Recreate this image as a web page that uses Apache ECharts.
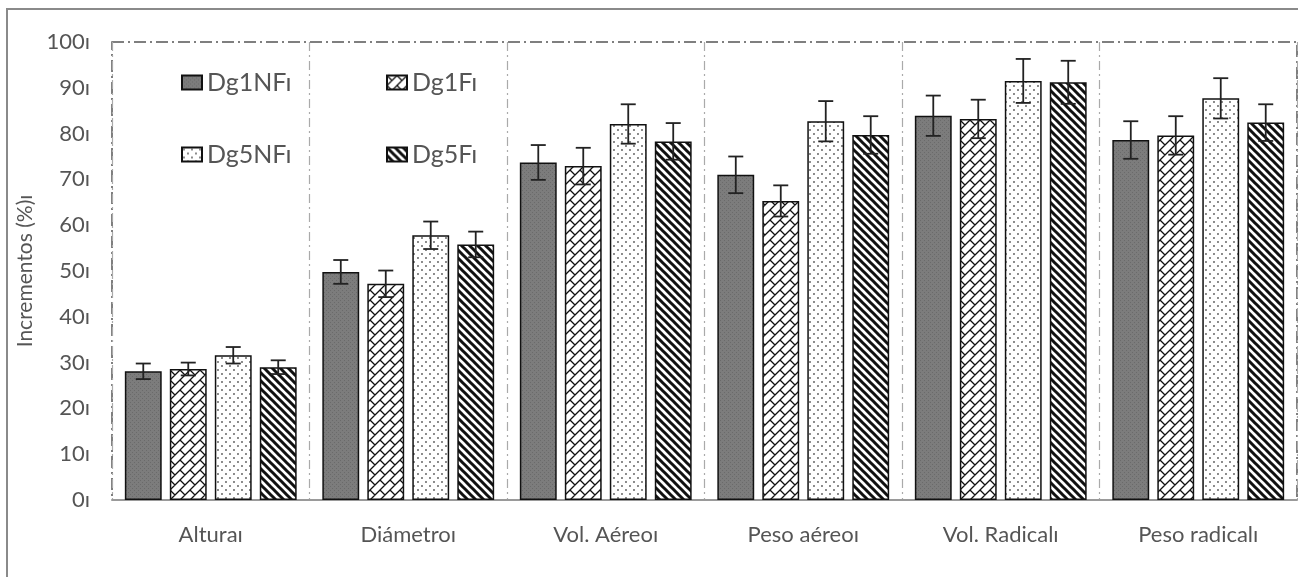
<!DOCTYPE html>
<html lang="es">

<head>
    <meta charset="UTF-8">
    <title>Incrementos</title>
    <style>
        * {
            padding: 0;
            margin: 0;
        }
        body {
            background: #fff;
        }
    </style>
</head>

<body>
    <div id="chart" style="width: 1298px; height: 577px;"></div>
    <script src="https://cdn.jsdelivr.net/npm/echarts@6/dist/echarts.min.js"></script>
    <script>
        const categories = ['Alturaı', 'Diámetroı', 'Vol. Aéreoı', 'Peso aéreoı', 'Vol. Radicalı', 'Peso radicalı']
        const seriesNames = ['Dg1NFı', 'Dg1Fı', 'Dg5NFı', 'Dg5Fı']

        const dg1nf = [28.1, 49.8, 73.7, 71.0, 83.9, 78.6]
        const dg1f = [28.6, 47.2, 72.9, 65.3, 83.2, 79.6]
        const dg5nf = [31.6, 57.8, 82.1, 82.7, 91.5, 87.7]
        const dg5f = [29.0, 55.8, 78.3, 79.7, 91.2, 82.4]

        // desvios (barras de error)
        const err1nf = [1.7, 2.6, 3.8, 4.0, 4.4, 4.1]
        const err1f = [1.4, 2.9, 4.0, 3.4, 4.2, 4.2]
        const err5nf = [1.8, 3.0, 4.3, 4.4, 4.8, 4.4]
        const err5f = [1.5, 2.8, 4.0, 4.1, 4.7, 4.0]

        const yTicks = [0, 10, 20, 30, 40, 50, 60, 70, 80, 90, 100]

        const values = [dg1nf, dg1f, dg5nf, dg5f]
        const errors = [err1nf, err1f, err5nf, err5f]

        const CAT_GAP = 0.13
        const BAR_GAP = 0.22

        // ---- patrones de relleno ----
        function makeTile(size, draw) {
            const c = document.createElement('canvas')
            c.width = size
            c.height = size
            const ctx = c.getContext('2d')
            ctx.fillStyle = '#fff'
            ctx.fillRect(0, 0, size, size)
            draw(ctx, size)
            return { image: c, repeat: 'repeat' }
        }

        const grayFill = makeTile(4, function (ctx, t) {
            ctx.fillStyle = '#7c7c7c'
            ctx.fillRect(0, 0, t, t)
            ctx.fillStyle = '#6a6a6a'
            ctx.fillRect(0, 0, 1, 1)
            ctx.fillRect(2, 2, 1, 1)
        })

        // ladrillos girados 45 grados
        const brickFill = makeTile(10, function (ctx, t) {
            const a = t / Math.SQRT2
            ctx.beginPath()
            ctx.rect(0, 0, t, t)
            ctx.clip()
            ctx.rotate(-Math.PI / 4)
            ctx.strokeStyle = '#111'
            ctx.lineWidth = 1.3
            ctx.beginPath()
            for (let k = -12; k <= 12; k++) {
                ctx.moveTo(-200, k * a)
                ctx.lineTo(200, k * a)
                for (let m = -12; m <= 12; m++) {
                    const x = 2 * a * m + (Math.abs(k) % 2) * a
                    ctx.moveTo(x, k * a)
                    ctx.lineTo(x, (k + 1) * a)
                }
            }
            ctx.stroke()
        })

        const dotFill = makeTile(8, function (ctx, t) {
            ctx.fillStyle = '#555'
            ctx.beginPath()
            ctx.arc(2, 2, 0.9, 0, Math.PI * 2)
            ctx.arc(6, 6, 0.9, 0, Math.PI * 2)
            ctx.fill()
        })

        const stripeFill = makeTile(8, function (ctx, t) {
            ctx.strokeStyle = '#111'
            ctx.lineWidth = 3
            ctx.beginPath()
            for (let k = -1; k <= 1; k++) {
                ctx.moveTo(k * t - 2, -2)
                ctx.lineTo(k * t + t + 2, t + 2)
            }
            ctx.stroke()
        })

        const fills = [grayFill, brickFill, dotFill, stripeFill]

        // datos para las barras de error
        const errData = []
        values.forEach(function (arr, s) {
            arr.forEach(function (v, i) {
                errData.push([i, v, errors[s][i], s])
            })
        })

        function renderError(params, api) {
            const cat = api.value(0)
            const mean = api.value(1)
            const e = api.value(2)
            const s = api.value(3)
            const band = api.size([1, 0])[0]
            const total = band * (1 - CAT_GAP)
            const w = total / (4 + 3 * BAR_GAP)
            const center = api.coord([cat, 0])[0]
            const x = center - total / 2 + s * w * (1 + BAR_GAP) + w / 2
            const yTop = api.coord([cat, mean + e])[1]
            const yBot = api.coord([cat, mean - e])[1]
            const cap = 7.5
            const style = { stroke: '#222', lineWidth: 1.8 }
            return {
                type: 'group',
                children: [
                    { type: 'line', shape: { x1: x, y1: yTop, x2: x, y2: yBot }, style: style },
                    { type: 'line', shape: { x1: x - cap, y1: yTop, x2: x + cap, y2: yTop }, style: style },
                    { type: 'line', shape: { x1: x - cap, y1: yBot, x2: x + cap, y2: yBot }, style: style }
                ]
            }
        }

        const legendPos = [
            { left: 176, top: 65 },
            { left: 381, top: 65 },
            { left: 176, top: 137 },
            { left: 381, top: 137 }
        ]

        const chart = echarts.init(document.getElementById('chart'))

        const options = {
            animation: false,
            textStyle: {
                fontFamily: 'Lato'
            },
            graphic: [{
                type: 'rect',
                shape: { x: 7, y: 9, width: 1320, height: 620 },
                style: { fill: 'none', stroke: '#8a8a8a', lineWidth: 2 },
                silent: true
            }],
            legend: legendPos.map(function (p, i) {
                return {
                    data: [seriesNames[i]],
                    left: p.left,
                    top: p.top,
                    icon: 'rect',
                    itemWidth: 20,
                    itemHeight: 14,
                    textStyle: { fontSize: 25, color: '#555' }
                }
            }),
            grid: {
                left: 112,
                right: 1,
                top: 42,
                bottom: 77,
                show: true,
                borderColor: '#555',
                borderWidth: 1.5,
                borderType: [12, 4, 2, 4]
            },
            xAxis: {
                type: 'category',
                data: categories,
                axisTick: { show: false },
                axisLine: {
                    lineStyle: { color: '#9a9a9a', width: 2 }
                },
                axisLabel: {
                    fontSize: 22,
                    color: '#555',
                    margin: 24
                },
                splitLine: {
                    show: true,
                    lineStyle: {
                        color: '#aaa',
                        width: 1.2,
                        type: [9, 4, 2, 4]
                    }
                }
            },
            yAxis: {
                type: 'value',
                min: 0,
                max: 100,
                interval: 10,
                name: 'Incrementos (%)ı',
                nameLocation: 'middle',
                nameGap: 66,
                nameRotate: 90,
                nameTextStyle: { fontSize: 21, color: '#555' },
                axisLine: { show: false },
                axisTick: { show: false },
                splitLine: { show: false },
                axisLabel: {
                    fontSize: 22,
                    color: '#555',
                    margin: 22,
                    formatter: function (v) {
                        return yTicks.indexOf(v) >= 0 ? v + 'ı' : ''
                    }
                }
            },
            series: values.map(function (arr, s) {
                return {
                    name: seriesNames[s],
                    type: 'bar',
                    barGap: (BAR_GAP * 100) + '%',
                    barCategoryGap: (CAT_GAP * 100) + '%',
                    itemStyle: {
                        color: fills[s],
                        borderColor: '#111',
                        borderWidth: 1.5
                    },
                    data: arr
                }
            }).concat([{
                type: 'custom',
                renderItem: renderError,
                data: errData,
                z: 10,
                silent: true
            }])
        }

        chart.setOption(options)
    </script>
</body>

</html>
